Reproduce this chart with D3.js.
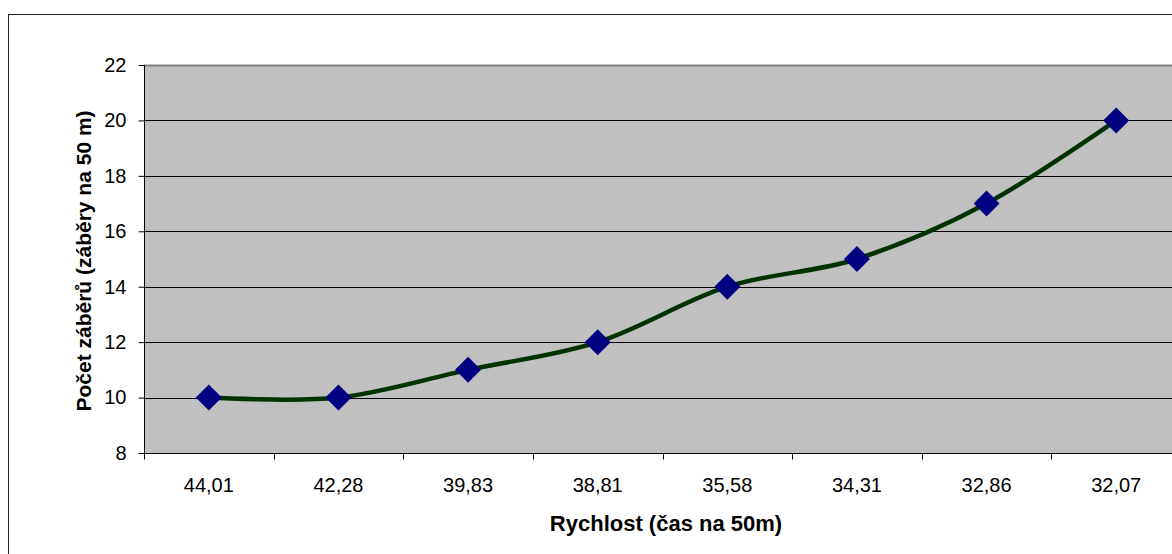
<!DOCTYPE html>
<html>
<head>
<meta charset="utf-8">
<script src="https://cdn.jsdelivr.net/npm/d3@7"></script>
<style>
  html, body { margin: 0; padding: 0; background: #fff; }
  svg { display: block; font-family: "Liberation Sans", Arial, sans-serif; }
</style>
</head>
<body>
<svg id="chart" width="1172" height="554"></svg>
<script>
// Swim time over 50 m and the matching stroke count
const categories = ["44,01", "42,28", "39,83", "38,81", "35,58", "34,31", "32,86", "32,07"];
const strokes = [10, 10, 11, 12, 14, 15, 17, 20];
const yTicks = [8, 10, 12, 14, 16, 18, 20, 22];

const svg = d3.select("#chart");
const plot = { left: 144, top: 65, right: 1181, bottom: 453 };
const FONT = "'Liberation Sans', Arial, sans-serif";

// Outer chart frame
svg.append("rect")
  .attr("x", 8.5).attr("y", 14.5)
  .attr("width", 1200).attr("height", 560)
  .attr("fill", "#fff").attr("stroke", "#222").attr("stroke-width", 1);

const x = d3.scaleBand().domain(categories).range([plot.left, plot.right]);
const y = d3.scaleLinear().domain([8, 22]).range([plot.bottom, plot.top]);

// Plot area
svg.append("rect")
  .attr("x", plot.left).attr("y", plot.top)
  .attr("width", plot.right - plot.left).attr("height", plot.bottom - plot.top)
  .attr("fill", "#C0C0C0");
svg.append("line")
  .attr("x1", plot.left).attr("x2", plot.right)
  .attr("y1", plot.top + 0.5).attr("y2", plot.top + 0.5)
  .attr("stroke", "#808080").attr("stroke-width", 2);

// Horizontal gridlines
svg.append("g").selectAll("line")
  .data(yTicks.filter(d => d > 8 && d < 22))
  .join("line")
  .attr("x1", plot.left).attr("x2", plot.right)
  .attr("y1", d => Math.round(y(d)) + 0.5).attr("y2", d => Math.round(y(d)) + 0.5)
  .attr("stroke", "#000").attr("stroke-width", 1);

// Y axis
const yAxis = svg.append("g")
  .attr("transform", `translate(${plot.left + 0.5},0)`)
  .call(d3.axisLeft(y).tickValues(yTicks).tickSize(6).tickPadding(12).tickFormat(d3.format("d")));
yAxis.select(".domain").attr("stroke", "#000").attr("d", `M0,${plot.top}V${plot.bottom}`);
yAxis.selectAll(".tick line").attr("stroke", "#000");
yAxis.selectAll("text").attr("font-size", 20).attr("fill", "#000")
  .attr("font-family", FONT);

// X axis with ticks on category boundaries
const xAxisG = svg.append("g").attr("transform", `translate(0,${plot.bottom + 0.5})`);
xAxisG.append("line")
  .attr("x1", plot.left).attr("x2", plot.right)
  .attr("stroke", "#000").attr("stroke-width", 1);
const bounds = categories.map(c => x(c)).concat([plot.right]);
xAxisG.selectAll("line.tk").data(bounds).join("line")
  .attr("class", "tk")
  .attr("x1", d => Math.round(d) + 0.5).attr("x2", d => Math.round(d) + 0.5)
  .attr("y1", 0).attr("y2", 6)
  .attr("stroke", "#000");
xAxisG.selectAll("text").data(categories).join("text")
  .attr("x", d => x(d) + x.bandwidth() / 2)
  .attr("y", 38.5)
  .attr("text-anchor", "middle")
  .attr("font-size", 20)
  .text(d => d);

// Smoothed series line
const line = d3.line()
  .x((d, i) => x(categories[i]) + x.bandwidth() / 2)
  .y(d => y(d))
  .curve(d3.curveCatmullRom.alpha(0));
svg.append("path")
  .datum(strokes)
  .attr("d", line)
  .attr("fill", "none")
  .attr("stroke", "#003300")
  .attr("stroke-width", 4.5)
  .attr("stroke-linejoin", "round");

// Diamond markers
const dsz = 13;
svg.append("g").selectAll("path")
  .data(strokes)
  .join("path")
  .attr("transform", (d, i) => `translate(${x(categories[i]) + x.bandwidth() / 2},${y(d)})`)
  .attr("d", `M0,${-dsz}L${dsz},0L0,${dsz}L${-dsz},0Z`)
  .attr("fill", "#000080");

// Axis titles
svg.append("text")
  .attr("x", 666)
  .attr("y", 531)
  .attr("text-anchor", "middle")
  .attr("font-size", 22).attr("font-weight", "bold")
  .text("Rychlost (čas na 50m)");
svg.append("text")
  .attr("transform", `translate(91,261) rotate(-90)`)
  .attr("text-anchor", "middle")
  .attr("font-size", 21).attr("font-weight", "bold")
  .text("Počet záběrů (záběry na 50 m)");
</script>
</body>
</html>
